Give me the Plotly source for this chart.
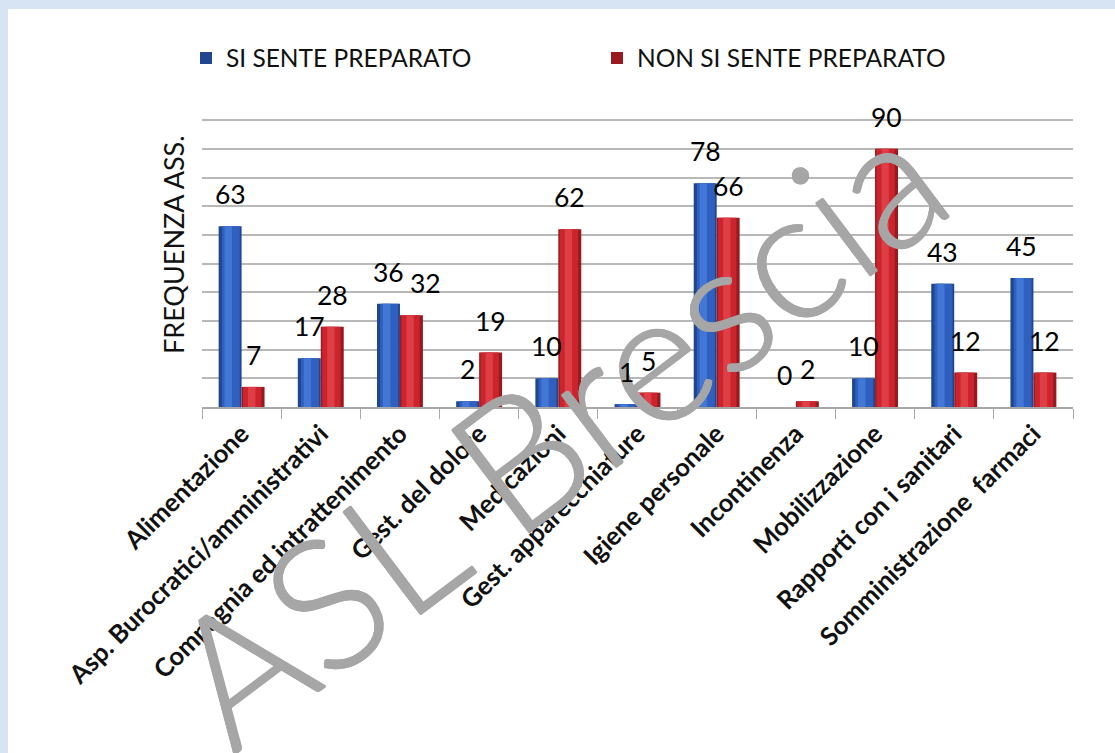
import plotly.graph_objects as go

# ---- data ----
categories = [
    "Alimentazione",
    "Asp. Burocratici/amministrativi",
    "Compagnia ed intrattenimento",
    "Gest. del dolore",
    "Medicazioni",
    "Gest. apparecchiature",
    "Igiene personale",
    "Incontinenza",
    "Mobilizzazione",
    "Rapporti con i sanitari",
    "Somministrazione  farmaci",
]
si_sente = [63, 17, 36, 2, 10, 1, 78, 0, 10, 43, 45]
non_si_sente = [7, 28, 32, 19, 62, 5, 66, 2, 90, 12, 12]
series_names = ["SI SENTE PREPARATO", "NON SI SENTE PREPARATO"]
y_title = "FREQUENZA ASS."
watermark = "ASL Brescia"

# ---- layout constants (pixels) ----
W_FIG, H_FIG = 1115, 753
L, R, T, B = 202, 42, 119, 346
PH = H_FIG - T - B
PW = W_FIG - L - R
CAT_PX = PW / len(categories)
Y_MAX = 100.4
PX_PER_UNIT = PH / Y_MAX

BW = 0.29  # bar width in category units

blue_layers = [("#21468f", 1.0, 0.0), ("#2f60c0", 0.78, 0.14), ("#4277d6", 0.32, 0.26)]
red_layers = [("#961a20", 1.0, 0.0), ("#cc242d", 0.8, 0.06), ("#de3e45", 0.32, 0.28)]

fig = go.Figure()

def add_series(vals, name, layers, base_off):
    for k, (col, wfrac, start) in enumerate(layers):
        fig.add_trace(go.Bar(
            x=categories, y=vals, name=name,
            width=BW * wfrac, offset=base_off + BW * start,
            marker=dict(color=col, line=dict(width=0)),
            showlegend=(k == 0), legendgroup=name,
            hoverinfo="skip" if k else "x+y",
        ))

add_series(si_sente, series_names[0], blue_layers, -BW)
add_series(non_si_sente, series_names[1], red_layers, 0.0)

def px_x(px):
    return (px - L) / PW

def px_y(py):
    return (T + PH - py) / PH

LABEL_FONT = dict(family="Lato", size=26.5, color="#000000")
annotations = []
# watermark first so the value labels stay readable on top of it
wm_col = "#a6a6a6"
annotations.append(dict(
    x=px_x(553), y=px_y(426), xref="paper", yref="paper",
    text=watermark, showarrow=False, textangle=-37,
    xanchor="center", yanchor="middle",
    font=dict(
        family="Lato", size=182, color=wm_col, weight=300,
        shadow=(f"0.8px 0 0 {wm_col}, -0.8px 0 0 {wm_col}, "
                f"0 0.8px 0 {wm_col}, 0 -0.8px 0 {wm_col}"),
    ),
))
for i, c in enumerate(categories):
    a, b = si_sente[i], non_si_sente[i]
    # avoid overlapping value labels (like the spreadsheet's auto placement)
    clash = (len(str(a)) + len(str(b)) >= 4) and abs(a - b) * PX_PER_UNIT < 20
    extra = 14 if clash else 0
    for v, sh, ex in ((a, -BW / 2, 0), (b, BW / 2, extra)):
        annotations.append(dict(
            x=c, y=v, xref="x", yref="y", text=str(v),
            showarrow=False, yanchor="bottom", xanchor="center",
            xshift=sh * CAT_PX + ex, yshift=14, font=LABEL_FONT,
        ))

# y-axis title
annotations.append(dict(
    x=px_x(173), y=px_y(245), xref="paper", yref="paper", text=y_title,
    showarrow=False, textangle=-90, xanchor="center", yanchor="middle",
    font=dict(family="Lato", size=27, color="#111111"),
))

fig.update_layout(
    width=W_FIG, height=H_FIG,
    margin=dict(l=L, r=R, t=T, b=B, pad=0, autoexpand=False),
    barmode="overlay",
    paper_bgcolor="#d6e4f4",
    plot_bgcolor="white",
    showlegend=True,
    legend=dict(
        orientation="h", x=px_x(186), y=px_y(58),
        xanchor="left", yanchor="middle",
        font=dict(family="Lato", size=24.5, color="#111111"),
        entrywidth=366, entrywidthmode="pixels",
        bgcolor="rgba(0,0,0,0)",
    ),
    shapes=[dict(
        type="rect", xref="paper", yref="paper", layer="below",
        x0=px_x(8), x1=px_x(1200), y0=px_y(900), y1=px_y(9),
        fillcolor="white", line=dict(width=0),
    )],
    annotations=annotations,
    xaxis=dict(
        type="category", tickangle=-45, showgrid=False, automargin=False,
        showline=True, linecolor="#a8a8a8", linewidth=1.5,
        ticks="outside", tickson="boundaries", ticklen=10, tickcolor="#a8a8a8",
        tickfont=dict(family="Lato", size=25.5, color="#111111", weight="bold"),
    ),
    yaxis=dict(
        range=[0, Y_MAX], tick0=0, dtick=10, showticklabels=False, showgrid=True,
        gridcolor="#b8b8b8", gridwidth=1.5, zeroline=False, showline=False,
        ticks="", automargin=False,
    ),
)

fig.write_html(
    "out.html",
    config={"displayModeBar": False},
    post_script="document.body.style.margin='0';document.body.style.overflow='hidden';",
)
